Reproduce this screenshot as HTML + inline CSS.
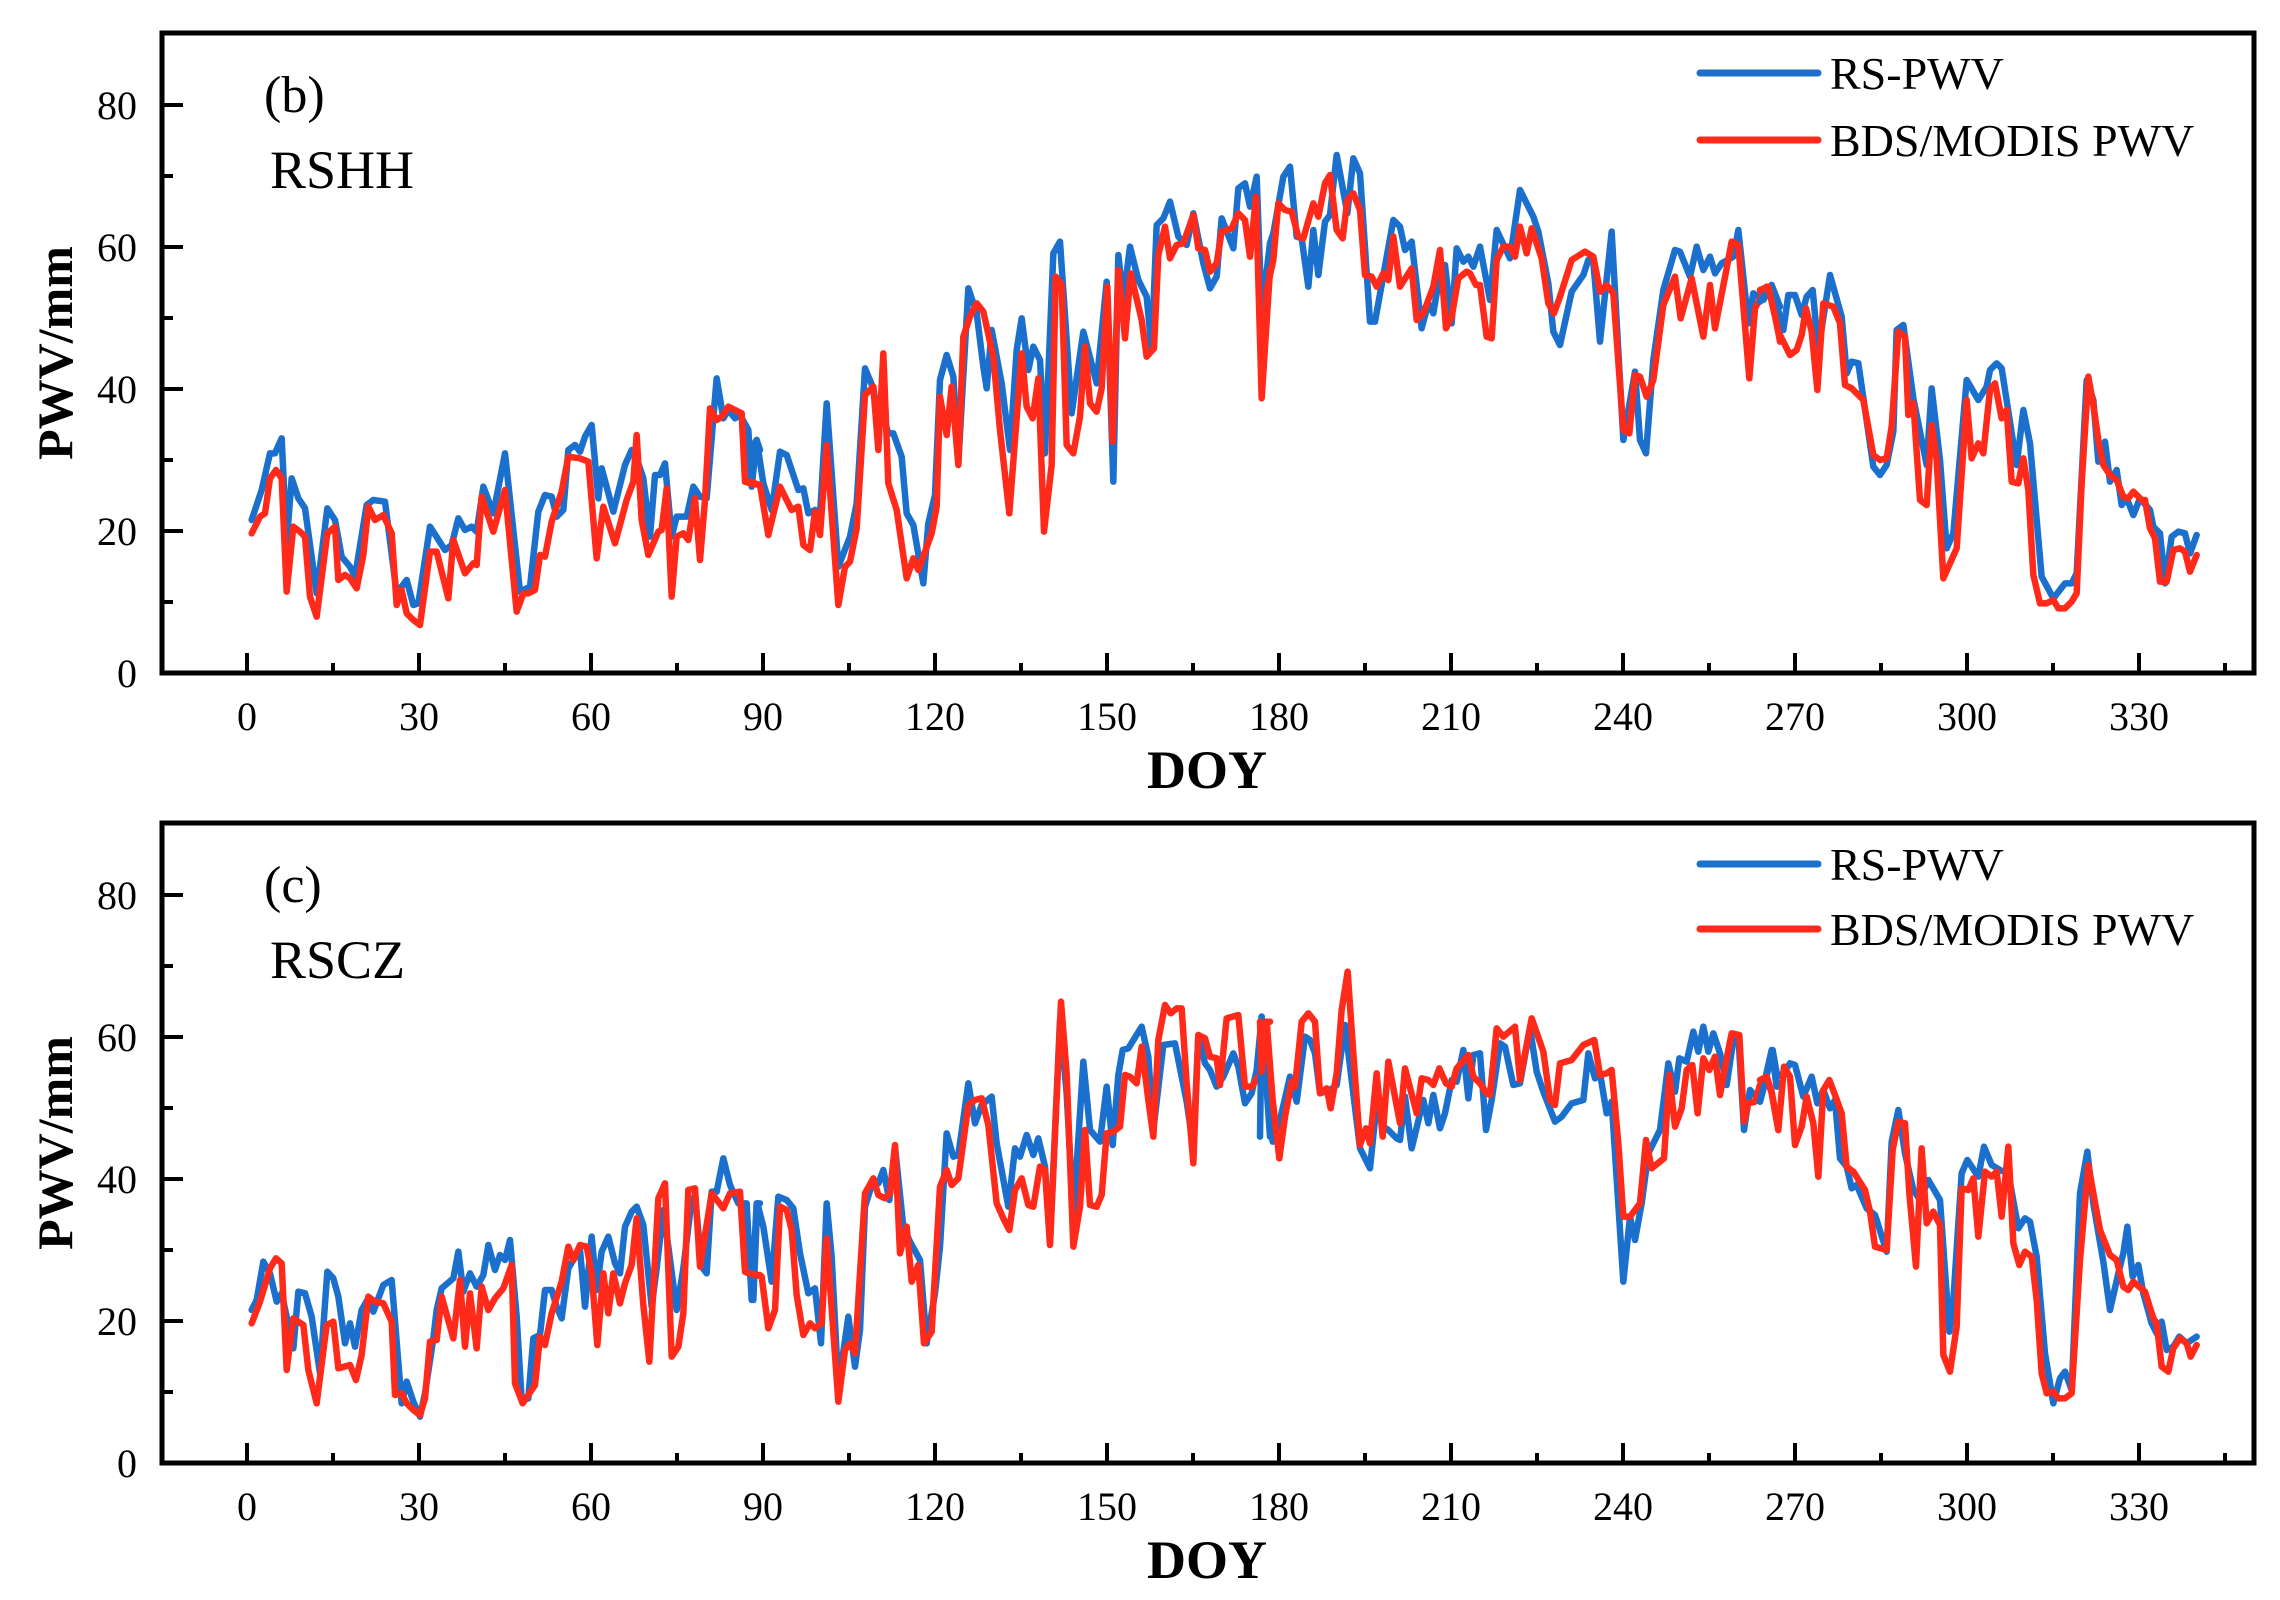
<!DOCTYPE html>
<html><head><meta charset="utf-8"><style>
html,body{margin:0;padding:0;background:#fff}
svg{display:block}
text{font-family:"Liberation Serif",serif;fill:#000}
.tl{font-size:40px}
.b{stroke:#1a70cc;fill:none;stroke-width:6.5;stroke-linejoin:round;stroke-linecap:round}
.r{stroke:#ff2a1a;fill:none;stroke-width:6.5;stroke-linejoin:round;stroke-linecap:round}
</style></head><body>
<svg width="2280" height="1600" viewBox="0 0 2280 1600" xmlns="http://www.w3.org/2000/svg">
<rect width="2280" height="1600" fill="#fff"/>

<!-- ============ PANEL B ============ -->
<g>
<g transform="translate(240,150) scale(0.33333)">
<polyline class="b" vector-effect="non-scaling-stroke" points="35,1110 65,1020 90,910 105,910 125,865 140,1180 155,985 175,1045 195,1075 230,1330 262,1075 285,1110 305,1220 330,1250 345,1280 380,1065 400,1050 435,1055 470,1330 500,1290 520,1365 535,1360 570,1130 615,1200 635,1185 655,1105 675,1140 695,1130 710,1145 730,1010 760,1090 795,910 840,1325 870,1310 895,1085 915,1035 935,1040 950,1100 970,1080 985,900 1005,885 1020,905 1035,860 1055,825 1075,1045 1085,955 1120,1085 1155,945 1175,900 1185,910 1210,985 1230,1160 1245,975 1260,975 1275,940 1295,1160 1310,1100 1340,1100 1360,1010 1380,1040 1400,1045 1430,685 1450,805 1465,780 1485,805 1500,795 1525,840 1535,1010 1550,870 1560,900"/>
<polyline class="r" vector-effect="non-scaling-stroke" points="35,1150 60,1100 75,1090 90,985 108,960 125,985 140,1325 160,1130 180,1145 195,1160 210,1340 230,1400 262,1150 285,1130 295,1290 315,1275 330,1285 350,1315 370,1215 385,1070 405,1110 430,1095 455,1150 470,1365 485,1320 500,1390 520,1410 540,1425 570,1205 590,1205 625,1345 640,1170 675,1270 700,1240 710,1245 725,1040 760,1145 795,1020 830,1385 850,1330 865,1330 885,1320 900,1215 915,1220 935,1115 965,1025 985,920 1020,925 1045,935 1070,1225 1090,1070 1125,1180 1160,1050 1180,995 1190,855 1205,1110 1225,1215 1255,1145 1265,1140 1280,1015 1295,1340 1310,1160 1330,1150 1345,1170 1365,1045 1380,1230 1395,1050 1410,775 1430,810 1445,800 1465,770 1505,790 1515,995 1530,1000 1560,1005"/>
</g>
<g transform="translate(750,150) scale(0.33333)">
<polyline class="b" vector-effect="non-scaling-stroke" points="0,900 20,870 40,1000 65,1080 90,905 110,915 145,1020 160,1015 175,1090 195,1080 210,1095 230,760 265,1250 300,1160 320,1060 345,655 370,715 385,800 400,800 415,850 430,850 455,920 470,1090 490,1125 520,1300 535,1120 555,1035 570,690 590,615 610,680 625,940 655,415 680,490 700,650 710,715 725,540 755,700 780,900 800,600 815,505 835,660 850,590 870,630 885,910 910,310 930,275 965,790 1000,545 1040,700 1070,395 1090,995 1105,315 1120,450 1140,290 1165,390 1190,440 1205,600 1220,225 1240,205 1260,155 1285,260 1310,285 1330,190 1360,340 1380,415 1400,380 1415,205 1450,295 1465,115 1485,100 1500,170 1520,80 1535,490 1560,280"/>
<polyline class="r" vector-effect="non-scaling-stroke" points="0,995 30,1005 55,1155 90,1010 125,1080 145,1070 160,1185 180,1200 195,1085 210,1155 230,885 265,1365 285,1250 300,1235 320,1135 345,735 370,710 385,900 400,610 415,1000 440,1080 470,1285 490,1225 505,1260 545,1150 560,1070 570,740 590,855 605,710 625,945 640,560 660,500 680,460 700,485 730,620 750,840 778,1090 815,610 830,770 848,805 865,685 882,1145 905,945 917,380 935,405 950,885 970,910 990,800 1005,590 1020,760 1040,785 1055,715 1072,410 1088,875 1105,360 1125,565 1142,370 1175,510 1190,620 1212,595 1225,315 1245,230 1260,325 1280,285 1300,280 1330,195 1345,295 1365,300 1380,365 1400,340 1415,245 1445,235 1465,190 1485,210 1500,320 1518,140 1535,745 1560,360"/>
</g>
<g transform="translate(1260,150) scale(0.33333)">
<polyline class="b" vector-effect="non-scaling-stroke" points="30,280 40,250 70,80 90,50 110,260 125,265 145,410 160,240 175,375 195,215 210,195 230,15 262,190 280,25 300,70 330,515 345,515 400,210 420,230 435,300 455,275 485,535 505,460 520,490 540,370 555,345 575,520 590,295 610,335 625,320 640,350 660,290 690,450 710,240 750,325 780,120 820,200 835,245 865,400 880,545 900,585 935,425 970,375 985,330 1000,335 1020,575 1055,245 1090,870 1125,665 1140,870 1158,910 1180,630 1210,420 1245,300 1260,305 1290,380 1310,290 1330,360 1350,320 1365,370 1385,340 1420,320 1435,240 1465,520 1480,430 1510,450 1535,405 1560,470"/>
<polyline class="r" vector-effect="non-scaling-stroke" points="5,740 20,420 40,330 55,160 75,180 95,185 115,260 130,265 160,160 175,200 195,100 210,75 230,240 248,265 262,150 280,130 300,180 315,375 335,380 350,410 370,370 385,390 400,260 420,410 455,355 470,510 490,490 520,410 540,300 558,535 575,500 595,385 620,365 630,370 648,405 660,405 680,560 695,565 710,330 730,290 750,290 765,320 780,230 800,310 815,235 845,325 865,460 882,490 900,440 935,330 975,305 1000,320 1020,425 1040,405 1060,430 1090,840 1108,850 1125,675 1140,680 1160,740 1180,690 1210,465 1245,380 1262,505 1295,385 1330,560 1350,405 1365,535 1400,355 1415,275 1435,285 1468,685 1485,475 1520,410 1535,440 1560,575"/>
</g>
<g transform="translate(1760,150) scale(0.33333)">
<polyline class="b" vector-effect="non-scaling-stroke" points="0,455 35,405 70,540 85,435 105,435 125,495 140,440 158,420 175,600 210,375 245,500 260,670 275,635 295,640 340,950 360,975 380,945 400,845 410,540 430,525 460,745 500,945 515,715 540,930 560,1195 580,1150 620,690 655,750 680,710 690,660 710,640 725,655 770,945 790,780 810,880 845,1280 880,1345 915,1300 935,1300 950,1270 980,690 1000,750 1015,935 1035,875 1050,995 1070,960 1085,1065 1100,1045 1120,1095 1140,1045 1170,1080 1180,1130 1200,1150 1215,1300 1235,1160 1255,1145 1275,1150 1290,1210 1310,1155"/>
<polyline class="r" vector-effect="non-scaling-stroke" points="0,420 25,410 55,545 90,615 110,600 125,555 138,475 155,545 172,720 190,460 220,470 240,520 255,705 275,715 310,750 340,915 360,930 380,925 395,830 415,545 435,560 445,795 460,760 480,1050 500,1065 515,825 530,930 550,1285 590,1195 620,750 635,925 655,880 670,910 690,720 705,700 725,805 740,780 755,995 775,1000 790,925 805,1020 820,1275 840,1360 860,1360 880,1350 895,1375 915,1375 935,1355 950,1330 965,1000 985,680 1000,765 1015,870 1030,945 1050,975 1070,990 1090,1040 1105,1045 1120,1025 1145,1050 1155,1050 1170,1135 1185,1165 1200,1295 1220,1295 1240,1200 1260,1195 1275,1205 1290,1265 1310,1215"/>
</g>
<rect x="162" y="33" width="2092" height="640" fill="none" stroke="#000" stroke-width="5"/>
<g stroke="#000" stroke-width="4">
<line x1="162" y1="673" x2="183" y2="673"/><line x1="162" y1="531" x2="183" y2="531"/><line x1="162" y1="389" x2="183" y2="389"/><line x1="162" y1="247" x2="183" y2="247"/><line x1="162" y1="105" x2="183" y2="105"/>
<line x1="162" y1="602" x2="173" y2="602"/><line x1="162" y1="460" x2="173" y2="460"/><line x1="162" y1="318" x2="173" y2="318"/><line x1="162" y1="176" x2="173" y2="176"/>
<line x1="247" y1="673" x2="247" y2="653"/><line x1="419" y1="673" x2="419" y2="653"/><line x1="591" y1="673" x2="591" y2="653"/><line x1="763" y1="673" x2="763" y2="653"/><line x1="935" y1="673" x2="935" y2="653"/><line x1="1107" y1="673" x2="1107" y2="653"/><line x1="1279" y1="673" x2="1279" y2="653"/><line x1="1451" y1="673" x2="1451" y2="653"/><line x1="1623" y1="673" x2="1623" y2="653"/><line x1="1795" y1="673" x2="1795" y2="653"/><line x1="1967" y1="673" x2="1967" y2="653"/><line x1="2139" y1="673" x2="2139" y2="653"/>
<line x1="333" y1="673" x2="333" y2="663"/><line x1="505" y1="673" x2="505" y2="663"/><line x1="677" y1="673" x2="677" y2="663"/><line x1="849" y1="673" x2="849" y2="663"/><line x1="1021" y1="673" x2="1021" y2="663"/><line x1="1193" y1="673" x2="1193" y2="663"/><line x1="1365" y1="673" x2="1365" y2="663"/><line x1="1537" y1="673" x2="1537" y2="663"/><line x1="1709" y1="673" x2="1709" y2="663"/><line x1="1881" y1="673" x2="1881" y2="663"/><line x1="2053" y1="673" x2="2053" y2="663"/><line x1="2225" y1="673" x2="2225" y2="663"/>
</g>
<g text-anchor="end">
<text class="tl" x="137" y="687">0</text><text class="tl" x="137" y="545">20</text><text class="tl" x="137" y="403">40</text><text class="tl" x="137" y="261">60</text><text class="tl" x="137" y="119">80</text>
</g>
<g text-anchor="middle">
<text class="tl" x="247" y="730">0</text><text class="tl" x="419" y="730">30</text><text class="tl" x="591" y="730">60</text><text class="tl" x="763" y="730">90</text><text class="tl" x="935" y="730">120</text><text class="tl" x="1107" y="730">150</text><text class="tl" x="1279" y="730">180</text><text class="tl" x="1451" y="730">210</text><text class="tl" x="1623" y="730">240</text><text class="tl" x="1795" y="730">270</text><text class="tl" x="1967" y="730">300</text><text class="tl" x="2139" y="730">330</text>
</g>
<text x="1207" y="788" text-anchor="middle" font-size="54" font-weight="bold">DOY</text>
<text transform="translate(72,353) rotate(-90)" text-anchor="middle" font-size="50" font-weight="bold">PWV/mm</text>
<text x="264" y="112" font-size="52">(b)</text>
<text x="270" y="188" font-size="54">RSHH</text>
<line x1="1700" y1="73" x2="1818" y2="73" stroke="#1a70cc" stroke-width="7" stroke-linecap="round"/>
<text x="1830" y="89" font-size="46">RS-PWV</text>
<line x1="1700" y1="140" x2="1818" y2="140" stroke="#ff2a1a" stroke-width="7" stroke-linecap="round"/>
<text x="1830" y="156" font-size="46">BDS/MODIS PWV</text>
</g>

<!-- ============ PANEL C ============ -->
<g>
<g transform="translate(240,940) scale(0.33333)">
<polyline class="b" vector-effect="non-scaling-stroke" points="35,1110 50,1080 70,965 90,1000 110,1085 125,1060 140,1130 160,1225 175,1055 195,1060 215,1130 240,1300 262,995 280,1015 295,1070 315,1210 330,1150 345,1220 365,1110 385,1075 400,1115 430,1035 455,1020 485,1390 500,1325 520,1385 540,1430 555,1360 580,1195 590,1110 605,1045 640,1015 655,935 670,1055 690,1000 710,1040 730,1005 745,915 765,990 780,945 795,960 810,900 830,1130 845,1380 865,1375 880,1195 900,1185 915,1050 935,1050 950,1100 965,1135 985,985 1000,960 1020,930 1035,1100 1055,890 1070,1050 1085,935 1105,890 1125,970 1140,1000 1155,860 1175,815 1190,800 1210,855 1235,1100 1250,985 1270,810 1285,920 1310,1110 1330,985 1350,820 1365,765 1385,980 1400,1000 1415,755 1430,755 1450,655 1470,735 1495,790 1520,790 1535,1080 1550,790 1560,790"/>
<polyline class="r" vector-effect="non-scaling-stroke" points="35,1150 60,1085 90,985 108,955 125,970 140,1290 160,1135 190,1155 205,1290 230,1390 260,1155 280,1145 295,1285 330,1275 348,1320 365,1245 385,1070 405,1085 430,1090 455,1145 465,1365 485,1360 500,1390 520,1410 540,1425 555,1375 570,1205 590,1200 605,1070 640,1195 660,1020 675,1220 690,1060 710,1225 725,1040 745,1110 765,1075 790,1045 815,975 825,1330 848,1390 885,1335 900,1190 915,1215 935,1120 965,1025 985,920 1000,960 1020,915 1040,920 1055,1000 1072,1215 1090,1000 1105,1120 1120,1000 1140,1090 1155,1030 1175,975 1190,835 1210,1095 1228,1265 1255,775 1275,730 1295,1250 1315,1220 1330,1120 1345,750 1365,745 1380,980 1415,760 1450,805 1470,760 1500,755 1515,995 1535,1005 1560,1005"/>
</g>
<g transform="translate(750,940) scale(0.33333)">
<polyline class="b" vector-effect="non-scaling-stroke" points="0,1000 10,1080 22,790 40,860 65,1025 85,770 110,780 130,805 150,940 175,1060 195,1045 213,1210 230,790 245,950 265,1340 295,1130 315,1280 330,1170 345,800 370,720 385,730 400,690 418,780 435,620 460,860 480,905 510,960 530,1210 555,1060 570,920 590,580 610,650 625,645 655,430 675,550 695,495 725,470 740,610 775,800 795,625 810,650 830,585 850,645 865,595 885,680 900,910 930,240 950,460 970,830 1000,365 1020,570 1050,605 1070,440 1088,615 1105,405 1118,330 1135,325 1175,260 1195,350 1210,570 1240,315 1275,310 1310,485 1330,620 1345,285 1365,370 1380,390 1400,440 1420,410 1450,340 1465,380 1485,490 1505,460 1520,390 1535,230 1560,590"/>
<polyline class="r" vector-effect="non-scaling-stroke" points="0,1000 35,1010 55,1165 75,1110 90,800 110,810 125,870 140,1065 160,1185 180,1150 195,1165 215,1150 230,895 265,1385 285,1230 300,1210 315,1240 345,760 370,715 385,765 405,775 420,760 435,615 450,940 470,860 485,1025 505,975 522,1210 545,1175 570,740 590,690 605,735 625,715 655,495 675,480 695,475 715,555 740,790 760,835 778,870 795,750 815,715 835,795 850,800 870,680 885,690 900,915 933,185 950,400 970,920 990,800 1005,570 1020,795 1040,800 1055,765 1070,580 1090,575 1110,560 1125,405 1140,410 1160,430 1175,320 1195,480 1210,590 1225,300 1245,195 1262,220 1280,205 1295,205 1310,430 1330,670 1345,285 1365,295 1380,350 1400,355 1410,435 1430,235 1465,225 1485,440 1505,440 1535,395 1550,250 1560,245"/>
</g>
<g transform="translate(1260,940) scale(0.33333)">
<polyline class="b" vector-effect="non-scaling-stroke" points="0,590 5,230 20,400 38,605 60,540 90,410 110,485 135,290 150,300 165,340 180,460 210,450 230,435 255,255 275,420 300,625 330,685 350,490 370,560 385,570 410,595 420,600 435,470 455,625 490,480 505,550 520,465 540,565 555,520 575,420 590,425 610,330 625,475 640,345 660,340 678,570 695,480 720,310 735,320 760,435 780,430 810,265 830,395 850,455 885,545 905,530 935,490 970,480 985,340 1005,415 1020,400 1040,520 1055,485 1090,1025 1110,830 1125,900 1145,790 1165,640 1200,570 1225,370 1245,455 1258,355 1280,365 1300,275 1315,335 1330,260 1345,335 1360,280 1380,340 1400,435 1420,300 1435,285 1452,570 1470,450 1500,485 1515,420 1535,330 1550,440 1560,430"/>
<polyline class="r" vector-effect="non-scaling-stroke" points="0,245 5,395 20,245 38,480 58,655 75,530 95,425 105,440 125,245 145,220 165,245 180,460 200,445 212,505 230,400 245,210 263,95 280,340 300,615 318,565 330,610 350,400 368,590 385,365 420,550 435,385 470,520 485,415 505,420 520,435 538,385 558,430 575,440 590,385 625,345 640,410 660,430 680,460 690,465 710,265 730,290 765,260 780,420 815,235 850,335 870,480 885,495 900,370 935,360 970,315 1003,300 1020,405 1040,400 1055,390 1075,610 1090,830 1110,830 1140,790 1158,600 1175,685 1212,655 1228,405 1245,560 1265,505 1280,390 1297,375 1313,520 1330,355 1348,390 1365,350 1380,465 1400,355 1415,280 1438,285 1452,545 1465,490 1485,485 1500,435 1520,410 1535,460 1555,570"/>
</g>
<g transform="translate(1760,940) scale(0.33333)">
<polyline class="b" vector-effect="non-scaling-stroke" points="0,485 15,430 38,330 52,410 70,400 90,370 105,375 130,470 155,410 172,490 190,450 210,505 225,480 240,655 260,680 275,745 290,735 320,805 345,825 380,935 395,605 415,510 435,640 460,750 480,780 505,720 540,780 568,1175 580,1080 605,700 622,660 655,710 672,620 695,675 720,690 745,700 775,865 795,835 810,845 830,950 855,1240 880,1390 900,1315 915,1295 935,1350 960,760 982,635 1000,790 1030,965 1050,1110 1075,1000 1090,940 1102,860 1118,1010 1135,975 1150,1060 1175,1150 1190,1180 1205,1145 1220,1230 1240,1220 1258,1190 1280,1210 1310,1190"/>
<polyline class="r" vector-effect="non-scaling-stroke" points="0,420 20,410 35,455 55,570 72,380 90,410 105,615 125,560 140,470 160,550 175,710 190,450 208,420 225,465 245,520 260,680 280,695 315,750 330,815 345,920 380,930 398,630 415,545 435,550 448,760 468,980 485,625 500,850 520,815 540,855 550,1245 570,1295 590,1160 605,745 625,750 640,715 655,890 675,695 695,710 710,695 725,830 745,620 760,910 778,975 795,935 815,950 830,1080 845,1300 860,1360 880,1355 895,1375 915,1375 935,1360 960,960 985,675 1000,760 1020,870 1050,945 1070,960 1090,1040 1105,1050 1120,1025 1155,1055 1180,1135 1190,1150 1205,1280 1225,1295 1240,1225 1260,1195 1280,1210 1292,1250 1310,1215"/>
</g>
<rect x="162" y="823" width="2092" height="640" fill="none" stroke="#000" stroke-width="5"/>
<g stroke="#000" stroke-width="4">
<line x1="162" y1="1463" x2="183" y2="1463"/><line x1="162" y1="1321" x2="183" y2="1321"/><line x1="162" y1="1179" x2="183" y2="1179"/><line x1="162" y1="1037" x2="183" y2="1037"/><line x1="162" y1="895" x2="183" y2="895"/>
<line x1="162" y1="1392" x2="173" y2="1392"/><line x1="162" y1="1250" x2="173" y2="1250"/><line x1="162" y1="1108" x2="173" y2="1108"/><line x1="162" y1="966" x2="173" y2="966"/>
<line x1="247" y1="1463" x2="247" y2="1443"/><line x1="419" y1="1463" x2="419" y2="1443"/><line x1="591" y1="1463" x2="591" y2="1443"/><line x1="763" y1="1463" x2="763" y2="1443"/><line x1="935" y1="1463" x2="935" y2="1443"/><line x1="1107" y1="1463" x2="1107" y2="1443"/><line x1="1279" y1="1463" x2="1279" y2="1443"/><line x1="1451" y1="1463" x2="1451" y2="1443"/><line x1="1623" y1="1463" x2="1623" y2="1443"/><line x1="1795" y1="1463" x2="1795" y2="1443"/><line x1="1967" y1="1463" x2="1967" y2="1443"/><line x1="2139" y1="1463" x2="2139" y2="1443"/>
<line x1="333" y1="1463" x2="333" y2="1453"/><line x1="505" y1="1463" x2="505" y2="1453"/><line x1="677" y1="1463" x2="677" y2="1453"/><line x1="849" y1="1463" x2="849" y2="1453"/><line x1="1021" y1="1463" x2="1021" y2="1453"/><line x1="1193" y1="1463" x2="1193" y2="1453"/><line x1="1365" y1="1463" x2="1365" y2="1453"/><line x1="1537" y1="1463" x2="1537" y2="1453"/><line x1="1709" y1="1463" x2="1709" y2="1453"/><line x1="1881" y1="1463" x2="1881" y2="1453"/><line x1="2053" y1="1463" x2="2053" y2="1453"/><line x1="2225" y1="1463" x2="2225" y2="1453"/>
</g>
<g text-anchor="end">
<text class="tl" x="137" y="1477">0</text><text class="tl" x="137" y="1335">20</text><text class="tl" x="137" y="1193">40</text><text class="tl" x="137" y="1051">60</text><text class="tl" x="137" y="909">80</text>
</g>
<g text-anchor="middle">
<text class="tl" x="247" y="1520">0</text><text class="tl" x="419" y="1520">30</text><text class="tl" x="591" y="1520">60</text><text class="tl" x="763" y="1520">90</text><text class="tl" x="935" y="1520">120</text><text class="tl" x="1107" y="1520">150</text><text class="tl" x="1279" y="1520">180</text><text class="tl" x="1451" y="1520">210</text><text class="tl" x="1623" y="1520">240</text><text class="tl" x="1795" y="1520">270</text><text class="tl" x="1967" y="1520">300</text><text class="tl" x="2139" y="1520">330</text>
</g>
<text x="1207" y="1578" text-anchor="middle" font-size="54" font-weight="bold">DOY</text>
<text transform="translate(72,1143) rotate(-90)" text-anchor="middle" font-size="50" font-weight="bold">PWV/mm</text>
<text x="264" y="902" font-size="52">(c)</text>
<text x="270" y="978" font-size="54">RSCZ</text>
<line x1="1700" y1="864" x2="1818" y2="864" stroke="#1a70cc" stroke-width="7" stroke-linecap="round"/>
<text x="1830" y="880" font-size="46">RS-PWV</text>
<line x1="1700" y1="929" x2="1818" y2="929" stroke="#ff2a1a" stroke-width="7" stroke-linecap="round"/>
<text x="1830" y="945" font-size="46">BDS/MODIS PWV</text>
</g>
</svg>
</body></html>
